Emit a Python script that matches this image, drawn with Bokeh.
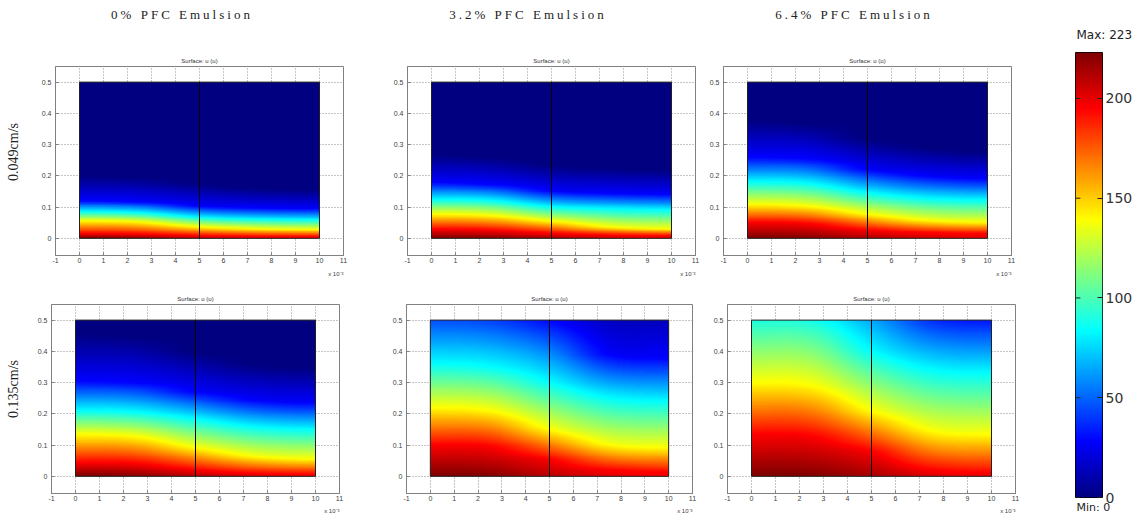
import numpy as np
from bokeh.plotting import figure
from bokeh.models import (Range1d, FixedTicker, LinearColorMapper, LinearAxis, Title, Div)
from bokeh.layouts import row, column
from bokeh.embed import file_html
from bokeh.resources import INLINE

# ---------------- data ----------------
COLUMN_TITLES = ["0% PFC Emulsion", "3.2% PFC Emulsion", "6.4% PFC Emulsion"]
ROW_LABELS = ["0.049cm/s", "0.135cm/s"]
PANEL_TITLE = "Surface: u (u)"
X_SCALE_NOTE = "x 10\u207b\u00b3"

X_TICKS = [-1, 0, 1, 2, 3, 4, 5, 6, 7, 8, 9, 10, 11]
X_TICK_LABELS = ["-1", "0", "1", "2", "3", "4", "5", "6", "7", "8", "9", "10", "11"]
Y_TICKS = [0, 0.1, 0.2, 0.3, 0.4, 0.5]
Y_TICK_LABELS = ["0", "0.1", "0.2", "0.3", "0.4", "0.5"]

DOMAIN_X = [0, 10]      # x 10^-3
DOMAIN_Y = [0, 0.5]
SPLIT_X = 5

CB_MIN = 0
CB_MAX = 223
CB_TICKS = [0, 50, 100, 150, 200]

# sample columns (x, in 10^-3) at which the field was read
X_COLS = [0, 2.5, 5, 7.5, 10]
# u levels whose heights were read (pure red, yellow, cyan, blue, navy of the jet map)
LEVELS = [195, 139, 84, 28, 0]

# panel A: 0% PFC, 0.049 cm/s
A_BOTTOM = [223, 218, 205, 200, 198]
A_HEIGHTS = [
    [0.014, 0.012, 0.007, 0.005, 0.004],
    [0.055, 0.051, 0.036, 0.029, 0.027],
    [0.085, 0.081, 0.066, 0.060, 0.058],
    [0.120, 0.116, 0.102, 0.096, 0.094],
    [0.200, 0.195, 0.175, 0.160, 0.155],
]
A_TOP = [0, 0, 0, 0, 0]

# panel B: 3.2% PFC, 0.049 cm/s
B_BOTTOM = [223, 220, 212, 203, 200]
B_HEIGHTS = [
    [0.028, 0.025, 0.015, 0.009, 0.007],
    [0.077, 0.072, 0.054, 0.035, 0.029],
    [0.124, 0.120, 0.100, 0.093, 0.090],
    [0.178, 0.172, 0.150, 0.143, 0.140],
    [0.270, 0.260, 0.235, 0.225, 0.220],
]
B_TOP = [0, 0, 0, 0, 0]

# panel C: 6.4% PFC, 0.049 cm/s
C_BOTTOM = [223, 221, 212, 204, 200]
C_HEIGHTS = [
    [0.050, 0.046, 0.026, 0.017, 0.014],
    [0.108, 0.102, 0.077, 0.056, 0.050],
    [0.180, 0.175, 0.145, 0.127, 0.122],
    [0.260, 0.255, 0.220, 0.198, 0.190],
    [0.380, 0.370, 0.320, 0.290, 0.280],
]
C_TOP = [0, 0, 0, 0, 0]

# panel D: 0% PFC, 0.135 cm/s
D_BOTTOM = [223, 220, 210, 201, 198]
D_HEIGHTS = [
    [0.043, 0.040, 0.020, 0.008, 0.005],
    [0.134, 0.127, 0.091, 0.062, 0.054],
    [0.210, 0.205, 0.183, 0.158, 0.150],
    [0.306, 0.300, 0.270, 0.243, 0.235],
    [0.460, 0.450, 0.400, 0.360, 0.350],
]
D_TOP = [0, 0, 0, 0, 0]

# panel E: 3.2% PFC, 0.135 cm/s
E_BOTTOM = [223, 221, 210, 200, 196]
E_HEIGHTS = [
    [0.100, 0.095, 0.054, 0.020, 0.012],
    [0.220, 0.210, 0.150, 0.100, 0.091],
    [0.360, 0.350, 0.300, 0.250, 0.240],
    [None, None, None, 0.390, 0.380],
    [None, None, None, None, None],
]
E_TOP = [45, 42, 29, 15, 14]

# panel F: 6.4% PFC, 0.135 cm/s
F_BOTTOM = [223, 222, 214, 202, 198]
F_HEIGHTS = [
    [0.134, 0.128, 0.080, 0.020, 0.010],
    [0.300, 0.290, 0.210, 0.145, 0.134],
    [None, None, 0.400, 0.340, 0.330],
    [None, None, None, None, None],
    [None, None, None, None, None],
]
F_TOP = [90, 88, 65, 38, 33]

PANELS = [
    [(A_BOTTOM, A_HEIGHTS, A_TOP), (B_BOTTOM, B_HEIGHTS, B_TOP), (C_BOTTOM, C_HEIGHTS, C_TOP)],
    [(D_BOTTOM, D_HEIGHTS, D_TOP), (E_BOTTOM, E_HEIGHTS, E_TOP), (F_BOTTOM, F_HEIGHTS, F_TOP)],
]

# ---------------- helpers ----------------
def jet_hex(t):
    r = min(max(1.5 - abs(4 * t - 3), 0), 1)
    g = min(max(1.5 - abs(4 * t - 2), 0), 1)
    b = min(max(1.5 - abs(4 * t - 1), 0), 1)
    return "#%02x%02x%02x" % (int(round(r * 255)), int(round(g * 255)), int(round(b * 255)))

JET = [jet_hex(i / 255) for i in range(256)]


def hermite_rows(xs, xc, vals):
    """smooth (cubic Hermite) resampling of column values along x, flat at both ends"""
    xc = np.asarray(xc, float)
    n = len(xc)
    m = np.zeros_like(vals)
    for j in range(1, n - 1):
        m[j] = (vals[j + 1] - vals[j - 1]) / (xc[j + 1] - xc[j - 1])
    out = np.empty((vals.shape[1], len(xs)))
    seg = np.clip(np.searchsorted(xc, xs, side="right") - 1, 0, n - 2)
    for k, x in enumerate(xs):
        j = seg[k]
        h = xc[j + 1] - xc[j]
        t = (x - xc[j]) / h
        h00 = 2 * t**3 - 3 * t**2 + 1
        h10 = t**3 - 2 * t**2 + t
        h01 = -2 * t**3 + 3 * t**2
        h11 = t**3 - t**2
        out[:, k] = h00 * vals[j] + h10 * h * m[j] + h01 * vals[j + 1] + h11 * h * m[j + 1]
    return out


def build_field(bottom, heights, top, nx=240, ny=240):
    ys = np.linspace(DOMAIN_Y[0], DOMAIN_Y[1], ny)
    xs = np.linspace(DOMAIN_X[0], DOMAIN_X[1], nx)
    cols = []
    for j in range(len(X_COLS)):
        py, pu = [DOMAIN_Y[0]], [bottom[j]]
        for lev, hs in zip(LEVELS, heights):
            if hs[j] is not None:
                py.append(hs[j]); pu.append(lev)
        if py[-1] < DOMAIN_Y[1]:
            py.append(DOMAIN_Y[1]); pu.append(top[j])
        cols.append(np.interp(ys, py, pu))
    cols = np.array(cols)  # (ncol, ny)
    field = hermite_rows(xs, X_COLS, cols)
    return np.clip(field, CB_MIN, CB_MAX)


mapper = LinearColorMapper(palette=JET, low=CB_MIN, high=CB_MAX)

# layout geometry (pixels)
LABEL_W = 28
FIG_W = [380 - LABEL_W, 325, 335]
FIG_H = [250, 235]
BORDERS = [  # left, right, top, bottom
    [(55 - LABEL_W, 37, 36, 25), (27, 10, 36, 25), (18, 29, 36, 25)],
    [(51 - LABEL_W, 41, 24, 22), (26, 13, 24, 22), (22, 25, 24, 22)],
]
LABEL_CENTER_Y = [122, 109]
NOTE_STANDOFF = [7, 4]

AX_COL = "#808080"
TXT_COL = "#404040"


def make_panel(r, c):
    bl, br, bt, bb = BORDERS[r][c]
    p = figure(width=FIG_W[c], height=FIG_H[r],
               x_range=Range1d(X_TICKS[0], X_TICKS[-1]), y_range=Range1d(-0.055, 0.55),
               output_backend="svg", toolbar_location=None,
               min_border_left=bl, min_border_right=br, min_border_top=bt, min_border_bottom=bb)
    p.title.text = PANEL_TITLE
    p.title.align = "center"
    p.title.text_font = "Liberation Sans"
    p.title.text_font_size = "6px"
    p.title.text_font_style = "normal"
    p.title.text_color = "#333333"
    p.title.standoff = 5

    p.xaxis.ticker = FixedTicker(ticks=X_TICKS)
    p.xaxis.major_label_overrides = dict(zip(X_TICKS, X_TICK_LABELS))
    p.yaxis.ticker = FixedTicker(ticks=Y_TICKS)
    p.yaxis.major_label_overrides = dict(zip(Y_TICKS, Y_TICK_LABELS))
    for ax in (p.xaxis, p.yaxis):
        ax.axis_line_color = AX_COL
        ax.major_tick_line_color = AX_COL
        ax.major_tick_in = 3
        ax.major_tick_out = 0
        ax.minor_tick_line_color = None
        ax.major_label_text_font = "Liberation Sans"
        ax.major_label_text_font_size = "7px"
        ax.major_label_text_color = TXT_COL
    p.xaxis.major_label_standoff = 2
    p.yaxis.major_label_standoff = 4
    p.xgrid.ticker = FixedTicker(ticks=X_TICKS)
    p.ygrid.ticker = FixedTicker(ticks=Y_TICKS)
    p.grid.grid_line_color = "#8a8a8a"
    p.grid.grid_line_dash = "1 2"
    p.grid.grid_line_width = 1
    p.outline_line_color = AX_COL
    p.background_fill_color = "white"

    bottom, heights, top = PANELS[r][c]
    field = build_field(bottom, heights, top)
    p.image(image=[field], x=DOMAIN_X[0], y=DOMAIN_Y[0],
            dw=DOMAIN_X[1] - DOMAIN_X[0], dh=DOMAIN_Y[1] - DOMAIN_Y[0], color_mapper=mapper)
    bx = [DOMAIN_X[0], DOMAIN_X[1], DOMAIN_X[1], DOMAIN_X[0], DOMAIN_X[0]]
    by = [DOMAIN_Y[0], DOMAIN_Y[0], DOMAIN_Y[1], DOMAIN_Y[1], DOMAIN_Y[0]]
    p.line(bx, by, line_color="#202020", line_width=1)
    p.line([SPLIT_X, SPLIT_X], DOMAIN_Y, line_color="#000000", line_width=1)

    p.add_layout(Title(text=X_SCALE_NOTE, align="right", text_font="Liberation Sans",
                       text_font_size="6px", text_font_style="normal", text_color=TXT_COL,
                       standoff=NOTE_STANDOFF[r], offset=0), "below")
    return p


def row_label(r):
    html = ('<div style="position:relative;width:%dpx;height:%dpx;">'
            '<div style="position:absolute;left:14px;top:%dpx;transform:translate(-50%%,-50%%) rotate(-90deg);'
            'white-space:nowrap;font-family:\'Liberation Serif\',serif;font-size:14px;line-height:16px;color:#222;">'
            '%s</div></div>') % (LABEL_W, FIG_H[r], LABEL_CENTER_Y[r], ROW_LABELS[r])
    return Div(text=html, width=LABEL_W, height=FIG_H[r], margin=0)


rows = []
for r in range(2):
    rows.append(row([row_label(r)] + [make_panel(r, c) for c in range(3)], spacing=0))

# column titles (letter-spaced, as in the reference)
centers = [182, 528, 854]
inner = "".join(
    '<div style="position:absolute;left:%dpx;top:8px;transform:translateX(-50%%);white-space:nowrap;'
    'font-family:\'Liberation Serif\',serif;font-size:13px;line-height:14px;letter-spacing:3px;color:#222;">%s</div>'
    % (cx, t) for cx, t in zip(centers, COLUMN_TITLES))
title_div = Div(text='<div style="position:relative;width:1040px;height:30px;">' + inner + '</div>',
                width=1040, height=30, margin=0)

# colour bar
cb = figure(width=102, height=515, x_range=Range1d(0, 1), y_range=Range1d(CB_MIN, CB_MAX),
            output_backend="svg", toolbar_location=None,
            x_axis_location=None, y_axis_location=None,
            min_border_left=35, min_border_right=40, min_border_top=52, min_border_bottom=18)
cb.grid.visible = False
grad = np.linspace(CB_MIN, CB_MAX, 256).reshape(256, 1)
cb.image(image=[grad], x=0, y=CB_MIN, dw=1, dh=CB_MAX - CB_MIN, color_mapper=mapper)
cb.outline_line_color = "black"
ax_r = LinearAxis(ticker=FixedTicker(ticks=CB_TICKS), major_tick_in=5, major_tick_out=0,
                  minor_tick_line_color=None, axis_line_color=None,
                  major_tick_line_color="#202020", major_label_standoff=3,
                  major_label_text_font="DejaVu Sans", major_label_text_font_size="14px",
                  major_label_text_color="#333333")
cb.add_layout(ax_r, "right")
# short tick marks on the left edge of the bar
cb.segment(x0=[0] * len(CB_TICKS), y0=CB_TICKS, x1=[0.18] * len(CB_TICKS), y1=CB_TICKS,
           line_color="#202020", line_width=1)
cb.title.text = "Max: %d" % CB_MAX
cb.title.align = "left"
cb.title.text_font = "DejaVu Sans"
cb.title.text_font_size = "12px"
cb.title.text_font_style = "normal"
cb.title.text_color = "#222222"
cb.title.standoff = 22
cb.title.offset = 1
cb.add_layout(Title(text="Min: %d" % CB_MIN, align="left", text_font="DejaVu Sans",
                    text_font_size="11px", text_font_style="normal", text_color="#222222",
                    standoff=2, offset=1), "below")

layout = row([column([title_div, rows[0], rows[1]], spacing=0), cb], spacing=0)

open("out.html", "w").write(file_html(layout, INLINE))
